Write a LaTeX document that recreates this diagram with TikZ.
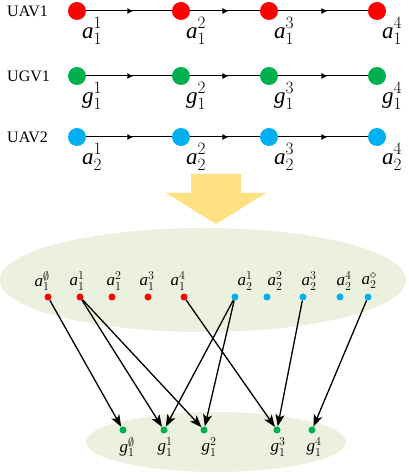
\documentclass[tikz,border=0pt]{standalone}
\usepackage{fontspec}
\setmainfont{Liberation Serif}
\usetikzlibrary{arrows.meta, decorations.markings}
\definecolor{uavred}{RGB}{255,0,0}
\definecolor{ugvgreen}{RGB}{0,176,80}
\definecolor{uavblue}{RGB}{0,176,240}
\definecolor{paleolive}{RGB}{235,241,222}
\definecolor{goldlight}{RGB}{255,224,130}

\begin{document}
\begin{tikzpicture}[
                x=1pt, y=1pt,
                bigdot/.style={shape=circle, minimum size=18pt, inner sep=0pt},
                smalldot/.style={shape=circle, minimum size=7pt, inner sep=0pt},
                steplabel/.style={inner sep=0pt, font=\fontsize{23}{23}\selectfont},
                setlabel/.style={inner sep=0pt, font=\fontsize{17}{17}\selectfont},
                flow/.style={line width=1pt, postaction={decorate},
                    decoration={markings, mark=at position 0.55 with {\arrow{Latex[length=6pt,width=6pt]}}}},
                match/.style={line width=1.3pt, -{Stealth[length=12pt,width=9pt,inset=3pt]}}
                ]
                \useasboundingbox (0,0) rectangle (408,474);

                %% Trajectories
                \foreach \row/\y/\col/\letter/\sub/\tag in {1/463/uavred/a/1/UAV1, 2/398/ugvgreen/g/1/UGV1, 3/337/uavblue/a/2/UAV2} {
                    \node[font=\fontsize{16}{18}\selectfont, anchor=west, inner sep=0pt] (tag\row) at (7,\y) {\tag};
                    \foreach \k/\x in {1/77, 2/181, 3/269, 4/377} {
                        \node[bigdot, fill=\col] (r\row n\k) at (\x,\y) {};
                        \node[steplabel] (r\row l\k) at (\x+15,\y-20) {$\mathit{\letter}^{\k}_{\sub}$};
                    }
                    \draw[flow] (r\row n1) -- (r\row n2);
                    \draw[flow] (r\row n2) -- (r\row n3);
                    \draw[flow] (r\row n3) -- (r\row n4);
                }

                %% Big arrow
                \fill[goldlight] (191,300) -- (241,300) -- (241,281) -- (266,281) -- (216,250) -- (166,281) -- (191,281) -- cycle;

                %% Sets
                \fill[paleolive] (203,194) ellipse (203 and 52);
                \fill[paleolive] (216,32) ellipse (130 and 30);

                % UAV points
                \foreach \name/\x/\lx/\sup in {ao/48/42/\emptyset, a1/80/77/1, a2/112/114/2, a3/148/147/3, a4/184/178/4} {
                    \node[smalldot, fill=uavred] (\name) at (\x,177) {};
                    \node[setlabel] (l\name) at (\lx,193) {$\mathit{a}^{\sup}_{1}$};
                }
                \foreach \name/\x/\lx/\sup in {b1/235/245/1, b2/267/275/2, b3/303/309/3, b4/340/344/4, bd/368/369/\diamond} {
                    \node[smalldot, fill=uavblue] (\name) at (\x,177) {};
                    \node[setlabel] (l\name) at (\lx,193) {$\mathit{a}^{\sup}_{2}$};
                }

                % UGV points
                \foreach \name/\x/\lx/\sup in {go/123/127/\emptyset, g1/164/165/1, g2/204/209/2, g3/277/278/3, g4/312/314/4} {
                    \node[smalldot, fill=ugvgreen] (\name) at (\x,44) {};
                    \node[setlabel] (l\name) at (\lx,27) {$\mathit{g}^{\sup}_{1}$};
                }

                %% Assignments
                \draw[match] (ao) -- (go);
                \draw[match] (a1) -- (g1);
                \draw[match] (a1) -- (g2);
                \draw[match] (a4) -- (g3);
                \draw[match] (b1) -- (g1);
                \draw[match] (b1) -- (g2);
                \draw[match] (b3) -- (g3);
                \draw[match] (bd) -- (g4);
\end{tikzpicture}
\end{document}
